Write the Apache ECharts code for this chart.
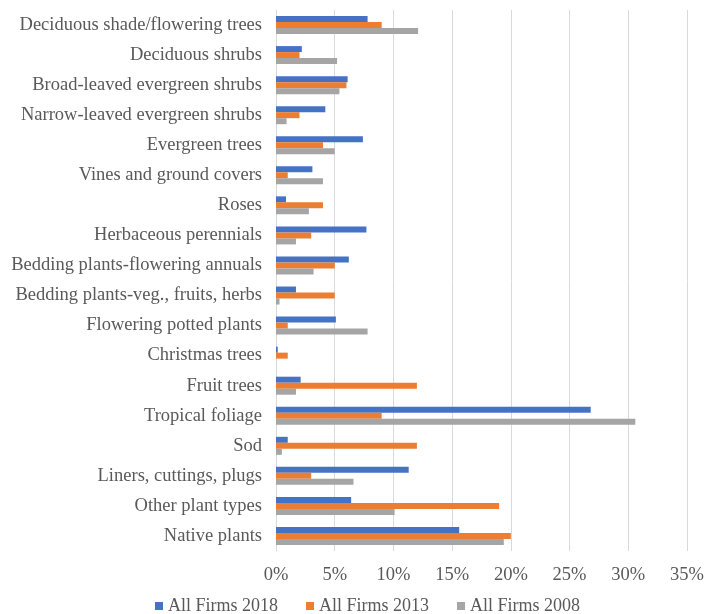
<!DOCTYPE html>
<html><head><meta charset="utf-8">
<script src="https://cdn.jsdelivr.net/npm/echarts@6/dist/echarts.min.js"></script>
<style>html,body{margin:0;padding:0;background:#fff}#c{width:707px;height:614px}</style>
</head><body><div id="c"></div>
<script>
const categories = ["Deciduous shade/flowering trees","Deciduous shrubs","Broad-leaved evergreen shrubs","Narrow-leaved evergreen shrubs","Evergreen trees","Vines and ground covers","Roses","Herbaceous perennials","Bedding plants-flowering annuals","Bedding plants-veg., fruits, herbs","Flowering potted plants","Christmas trees","Fruit trees","Tropical foliage","Sod","Liners, cuttings, plugs","Other plant types","Native plants"];
const firms2018 = [7.8,2.2,6.1,4.2,7.4,3.1,0.85,7.7,6.2,1.7,5.1,0.15,2.1,26.8,1.0,11.3,6.4,15.6];
const firms2013 = [9.0,2.0,6.0,2.0,4.0,1.0,4.0,3.0,5.0,5.0,1.0,1.0,12.0,9.0,12.0,3.0,19.0,20.0];
const firms2008 = [12.1,5.2,5.4,0.9,5.0,4.0,2.8,1.7,3.2,0.3,7.8,0,1.7,30.6,0.5,6.6,10.1,19.4];
const seriesNames = ["All Firms 2018","All Firms 2013","All Firms 2008"];
const colors = ["#4472C4","#ED7D31","#A5A5A5"];
const font = "Liberation Serif";
const chart = echarts.init(document.getElementById('c'));
const data = [firms2018, firms2013, firms2008];
chart.setOption({
  animation:false,
  textStyle:{fontFamily:font},
  grid:{left:276,right:20,top:10,bottom:63,containLabel:false},
  legend:{top:592,left:150,itemWidth:8,itemHeight:8,itemGap:28,icon:'rect',
    textStyle:{fontFamily:font,fontSize:18,color:'#595959',padding:0},data:seriesNames},
  xAxis:{type:'value',min:0,max:35,interval:5,
    axisLabel:{formatter:'{value}%',fontFamily:font,fontSize:18.5,color:'#595959',margin:15},
    splitLine:{lineStyle:{color:'#D9D9D9',width:1}},axisLine:{show:false},axisTick:{show:false}},
  yAxis:{type:'category',data:categories,inverse:true,
    axisLabel:{fontFamily:font,fontSize:18.5,color:'#595959',margin:14},
    axisLine:{show:true,lineStyle:{color:'#D9D9D9'}},axisTick:{show:false}},
  series:seriesNames.map((n,i)=>({name:n,type:'bar',data:data[i],barWidth:6,barGap:'0%',
    itemStyle:{color:colors[i]}}))
});
</script></body></html>
